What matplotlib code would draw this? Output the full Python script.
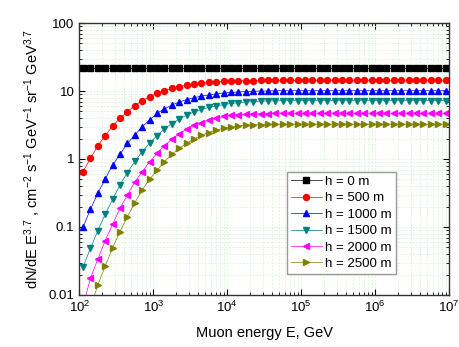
import numpy as np
import matplotlib
matplotlib.use("Agg")
import matplotlib.pyplot as plt
from matplotlib.ticker import LogLocator, FixedLocator, FixedFormatter, NullFormatter

plt.rcParams["font.family"] = ["Liberation Sans", "DejaVu Sans"]
plt.rcParams["mathtext.fontset"] = "custom"
plt.rcParams["mathtext.rm"] = "Liberation Sans"
plt.rcParams["mathtext.it"] = "Liberation Sans"

# muon energies, GeV (10 points per decade, bin centres)
energy = 10 ** (2.05 + 0.1 * np.arange(50))

h0 = [21.5] * 50
h500 = [0.65, 1.02, 1.57, 2.20, 3.05, 3.97, 4.97, 6.08, 7.19, 8.24,
        9.25, 10.1, 10.9, 11.6, 12.2, 12.7, 13.1, 13.4, 13.6, 13.8,
        14.0, 14.1, 14.2, 14.2, 14.3, 14.3, 14.3, 14.3, 14.3, 14.3,
        14.3, 14.3, 14.3, 14.3, 14.3, 14.3, 14.3, 14.3, 14.3, 14.3,
        14.3, 14.3, 14.3, 14.3, 14.3, 14.3, 14.3, 14.3, 14.3, 14.3]
h1000 = [0.099, 0.182, 0.313, 0.508, 0.817, 1.17, 1.70, 2.25, 2.99, 3.75,
         4.70, 5.43, 6.22, 6.89, 7.46, 7.98, 8.41, 8.77, 9.08, 9.33,
         9.53, 9.68, 9.82, 9.91, 9.98, 10.0, 10.1, 10.1, 10.1, 10.1,
         10.1, 10.1, 10.1, 10.1, 10.1, 10.1, 10.1, 10.1, 10.1, 10.1,
         10.1, 10.1, 10.1, 10.1, 10.1, 10.1, 10.1, 10.1, 10.1, 10.1]
h1500 = [0.0255, 0.0486, 0.0883, 0.154, 0.255, 0.417, 0.632, 0.923, 1.28, 1.70,
         2.21, 2.76, 3.31, 3.87, 4.42, 4.91, 5.35, 5.73, 6.04, 6.31,
         6.55, 6.73, 6.89, 7.00, 7.08, 7.13, 7.16, 7.2, 7.2, 7.2,
         7.2, 7.2, 7.2, 7.2, 7.2, 7.2, 7.2, 7.2, 7.2, 7.2,
         7.2, 7.2, 7.2, 7.2, 7.2, 7.2, 7.2, 7.2, 7.2, 7.2]
h2000 = [0.0069, 0.0176, 0.0335, 0.0630, 0.110, 0.188, 0.296, 0.459, 0.650, 0.912,
         1.21, 1.57, 1.95, 2.33, 2.76, 3.11, 3.44, 3.75, 4.01, 4.22,
         4.37, 4.48, 4.55, 4.60, 4.63, 4.66, 4.70, 4.70, 4.70, 4.70,
         4.70, 4.70, 4.70, 4.70, 4.70, 4.70, 4.70, 4.70, 4.70, 4.70,
         4.70, 4.70, 4.70, 4.70, 4.70, 4.70, 4.70, 4.70, 4.70, 4.70]
h2500 = [0.0028, 0.0065, 0.0140, 0.0267, 0.0497, 0.0853, 0.142, 0.228, 0.350, 0.502,
         0.678, 0.912, 1.17, 1.44, 1.70, 1.97, 2.22, 2.45, 2.67, 2.84,
         2.97, 3.07, 3.13, 3.18, 3.21, 3.22, 3.24, 3.24, 3.24, 3.24,
         3.24, 3.24, 3.24, 3.24, 3.24, 3.24, 3.24, 3.24, 3.24, 3.24,
         3.24, 3.24, 3.24, 3.24, 3.24, 3.24, 3.24, 3.24, 3.24, 3.24]

series = [h0, h500, h1000, h1500, h2000, h2500]
labels = ["h = 0 m", "h = 500 m", "h = 1000 m", "h = 1500 m", "h = 2000 m", "h = 2500 m"]
colors = ["black", "red", "blue", "#008080", "#ff00ff", "#808000"]
markers = ["s", "o", "^", "v", "<", ">"]
sizes = [3.8, 4.3, 4.5, 4.5, 4.5, 4.5]

fig = plt.figure(figsize=(4.59, 3.47), dpi=100)
ax = fig.add_axes([0.1728, 0.1499, 0.806, 0.7838])

for y, lab, c, m, s in zip(series, labels, colors, markers, sizes):
    ax.plot(energy, y, color=c, lw=0.5, marker=m, ms=s, mec=c, mfc=c, label=lab)

ax.set_xscale("log")
ax.set_yscale("log")
ax.set_xlim(1e2, 1e7)
ax.set_ylim(0.01, 100)

ax.yaxis.set_major_locator(FixedLocator([0.01, 0.1, 1, 10, 100]))
ax.yaxis.set_major_formatter(FixedFormatter(["0.01", "0.1", "1", "10", "100"]))
ax.yaxis.set_minor_locator(LogLocator(base=10, subs=np.arange(2, 10), numticks=20))
ax.yaxis.set_minor_formatter(NullFormatter())
ax.xaxis.set_minor_locator(LogLocator(base=10, subs=np.arange(2, 10), numticks=20))
ax.xaxis.set_minor_formatter(NullFormatter())

ax.grid(True, which="both", color="#d2f5d2", ls=(0, (3, 2)), lw=0.5)
ax.set_axisbelow(True)
ax.tick_params(which="both", direction="in", top=True, right=True, labelsize=9.5)
ax.tick_params(which="major", length=4, width=0.8)
ax.tick_params(which="minor", length=2, width=0.6)
for s in ax.spines.values():
    s.set_linewidth(1.0)
    s.set_color("#333333")

ax.set_xlabel("Muon energy E, GeV", fontsize=10.5, labelpad=8)
ax.set_ylabel(r"dN/dE E$^{3.7}$ , cm$^{-2}$ s$^{-1}$ GeV$^{-1}$ sr$^{-1}$ GeV$^{3.7}$",
              fontsize=10.5, labelpad=4)

ax.legend(loc="lower left", bbox_to_anchor=(0.562, 0.077), fontsize=9.5,
          fancybox=False, edgecolor="#999999", framealpha=1, handlelength=2.3,
          labelspacing=0.32, borderpad=0.3, handletextpad=0.3, borderaxespad=0)

fig.savefig("out.png", dpi=100)
